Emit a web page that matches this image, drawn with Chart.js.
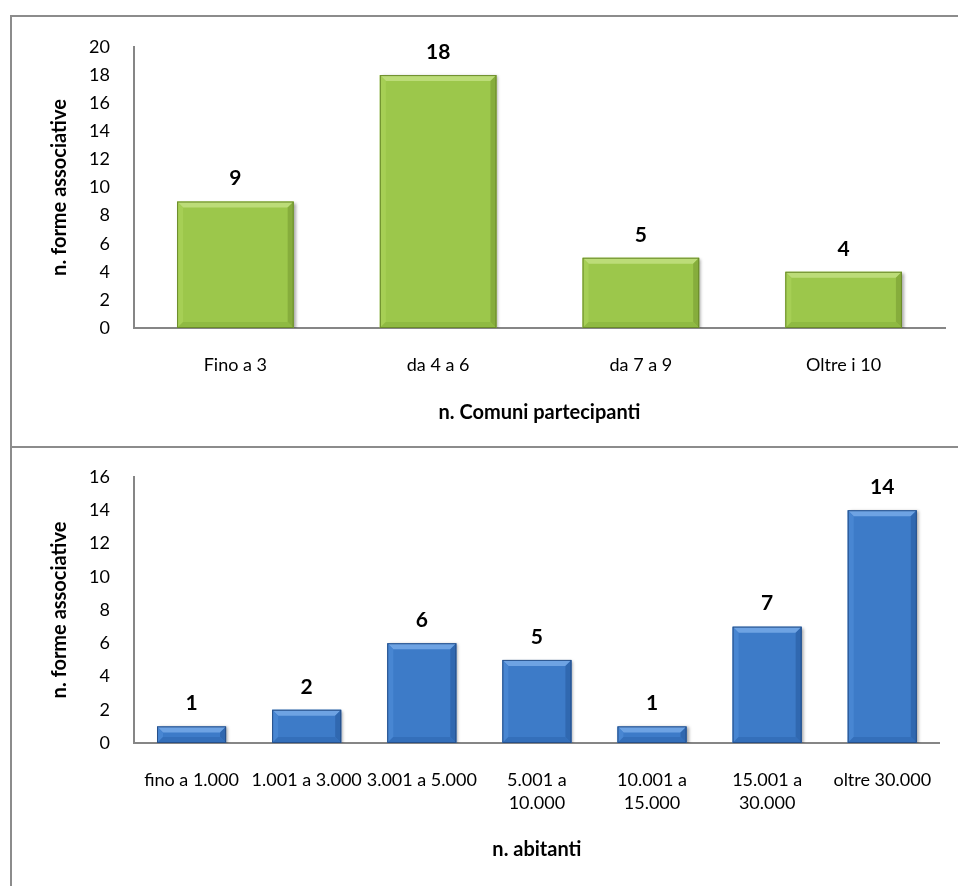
<!DOCTYPE html>
<html>
<head>
<meta charset="utf-8">
<script src="https://cdn.jsdelivr.net/npm/chart.js@4/dist/chart.umd.min.js"></script>
<style>
  body { margin: 0; background: #fff; }
  #frame { position: absolute; left: 10px; top: 15px; width: 948px; height: 871px;
           border-left: 2px solid #8c8c8c; border-top: 2px solid #8c8c8c; }
  #sep { position: absolute; left: 10px; top: 446px; width: 948px; height: 2px; background: #8c8c8c; }
  canvas { position: absolute; left: 12px; }
  #comuni { top: 17px; }
  #abitanti { top: 448px; }
</style>
</head>
<body>
<div id="frame"></div>
<div id="sep"></div>
<canvas id="comuni" width="946" height="429"></canvas>
<canvas id="abitanti" width="946" height="438"></canvas>
<script>
// dati
const comuniLabels = ["Fino a 3", "da 4 a 6", "da 7 a 9", "Oltre i 10"];
const comuniValues = [9, 18, 5, 4];

const abitantiLabels = ["fino a 1.000", "1.001 a 3.000", "3.001 a 5.000", ["5.001 a", "10.000"],
  ["10.001 a", "15.000"], ["15.001 a", "30.000"], "oltre 30.000"];
const abitantiValues = [1, 2, 6, 5, 1, 7, 14];

const yTitle = "n. forme associative";
const FONT = "Lato, 'Open Sans', sans-serif";

// ombra + bordo smussato stile Excel
const bevelPlugin = {
  id: 'bevel',
  beforeDatasetsDraw(chart) {
    const ctx = chart.ctx;
    ctx.save();
    ctx.shadowColor = 'rgba(0,0,0,0.35)';
    ctx.shadowOffsetX = 2;
    ctx.shadowOffsetY = 1;
    ctx.shadowBlur = 3;
  },
  afterDatasetsDraw(chart) {
    const ctx = chart.ctx;
    ctx.restore();
    const bev = chart.options.plugins.bevel;
    const meta = chart.getDatasetMeta(0);
    meta.data.forEach((bar, i) => {
      const l = bar.x - bar.width / 2, r = bar.x + bar.width / 2;
      const t = bar.y, b = bar.base;
      const d = Math.min(6, (b - t) / 2);
      ctx.save();
      // smusso superiore
      ctx.fillStyle = bev.light;
      ctx.beginPath();
      ctx.moveTo(l, t); ctx.lineTo(r, t); ctx.lineTo(r - d, t + d); ctx.lineTo(l + d, t + d); ctx.closePath();
      ctx.fill();
      // lati
      ctx.fillStyle = bev.left;
      ctx.beginPath();
      ctx.moveTo(l, t); ctx.lineTo(l + d, t + d); ctx.lineTo(l + d, b - d); ctx.lineTo(l, b); ctx.closePath();
      ctx.fill();
      ctx.fillStyle = bev.right;
      ctx.beginPath();
      ctx.moveTo(r, t); ctx.lineTo(r - d, t + d); ctx.lineTo(r - d, b - d); ctx.lineTo(r, b); ctx.closePath();
      ctx.fill();
      // smusso inferiore
      ctx.fillStyle = bev.dark;
      ctx.beginPath();
      ctx.moveTo(l, b); ctx.lineTo(r, b); ctx.lineTo(r - d, b - d); ctx.lineTo(l + d, b - d); ctx.closePath();
      ctx.fill();
      ctx.strokeStyle = bev.border;
      ctx.lineWidth = 1;
      ctx.strokeRect(l + 0.5, t + 0.5, r - l - 1, b - t - 1);
      // valore sopra la barra
      ctx.fillStyle = '#000';
      ctx.font = 'bold 21px ' + FONT;
      ctx.textAlign = 'center';
      ctx.textBaseline = 'middle';
      ctx.fillText(chart.data.datasets[0].data[i], bar.x, t - 23);
      ctx.restore();
    });
  }
};

function makeChart(id, labels, values, opts) {
  return new Chart(document.getElementById(id), {
    type: 'bar',
    data: {
      labels: labels,
      datasets: [{
        data: values,
        backgroundColor: opts.face,
        borderWidth: 0,
        barPercentage: opts.barPct,
        categoryPercentage: 1
      }]
    },
    options: {
      responsive: false,
      animation: false,
      layout: { padding: { top: opts.padTop, right: 13, left: 0, bottom: 0 } },
      plugins: {
        legend: { display: false },
        tooltip: { enabled: false },
        bevel: opts.bevel
      },
      scales: {
        x: {
          grid: { display: false, drawTicks: false },
          border: { color: '#868686', width: 2 },
          ticks: { color: '#000', font: { family: FONT, size: 18, lineHeight: 1.28 }, padding: 26, maxRotation: 0, autoSkip: false },
          title: { display: true, text: opts.xTitle, color: '#000',
                   font: { family: FONT, size: 20, weight: 'bold' }, padding: { top: 0, bottom: opts.xTitlePad } },
          afterFit: s => { s.height = opts.xHeight; }
        },
        y: {
          min: 0, max: opts.yMax,
          // niente segni di tacca: tickLength solo per distanziare le etichette
          grid: { display: false, drawTicks: true, tickLength: 16 },
          border: { color: '#868686', width: 2 },
          ticks: { stepSize: 2, color: '#000', font: { family: FONT, size: 18 }, padding: 8 },
          title: { display: true, text: yTitle, color: '#000',
                   font: { family: FONT, size: 20, weight: 'bold' }, padding: { top: 36, bottom: 0 } },
          afterFit: s => { s.width = 122; }
        }
      }
    },
    plugins: [bevelPlugin]
  });
}

makeChart('comuni', comuniLabels, comuniValues, {
  face: '#9cc74b', barPct: 0.575, yMax: 20, xHeight: 118, xTitlePad: 21, padTop: 30,
  xTitle: "n. Comuni partecipanti",
  bevel: { light: '#bcdc78', left: '#a6cf55', right: '#86ad3c', dark: '#8fba42', border: '#6a8a2a' }
});

makeChart('abitanti', abitantiLabels, abitantiValues, {
  face: '#3d7bc8', barPct: 0.6, yMax: 16, xHeight: 143, xTitlePad: 24, padTop: 29,
  xTitle: "n. abitanti",
  bevel: { light: '#6ea3e3', left: '#4886d2', right: '#3068b0', dark: '#346fba', border: '#264f88' }
});
</script>
</body>
</html>
